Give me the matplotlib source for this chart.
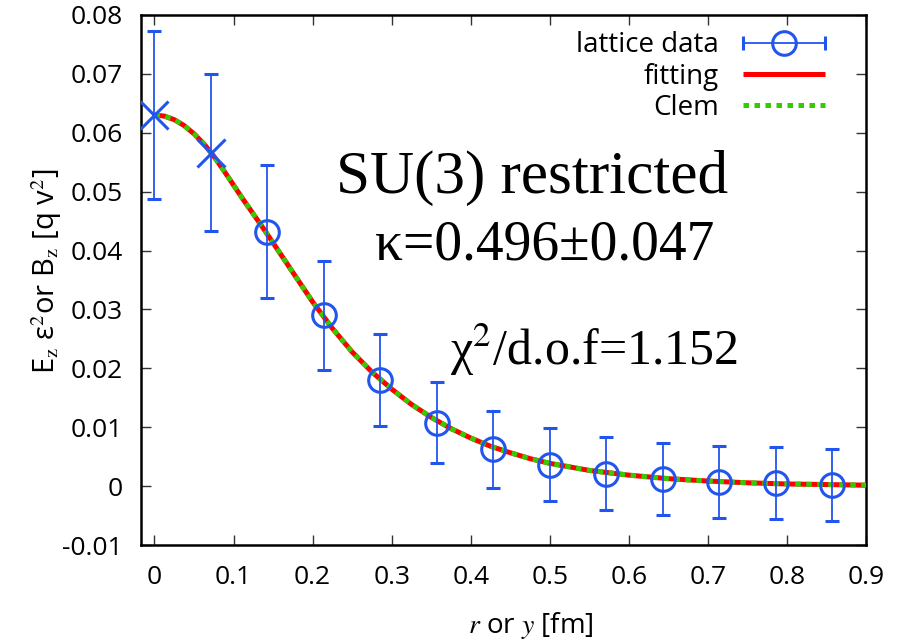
import numpy as np
import matplotlib
matplotlib.use('Agg')
import matplotlib.pyplot as plt
from matplotlib.legend_handler import HandlerErrorbar
from matplotlib import font_manager

plt.rcParams['font.family'] = ['Open Sans', 'DejaVu Sans']
plt.rcParams['mathtext.fontset'] = 'stix'

# lattice data (first two points drawn as crosses)
r_lat   = [0.0, 0.0714, 0.1429, 0.2143, 0.2857, 0.3571, 0.4286,
           0.5, 0.5714, 0.6429, 0.7143, 0.7857, 0.8571]
e_lat   = [0.0630, 0.0566, 0.0432, 0.0290, 0.0180, 0.0108, 0.0063,
           0.0037, 0.0021, 0.0013, 0.0008, 0.0005, 0.0003]
err_lat = [0.0143, 0.0133, 0.0113, 0.0092, 0.0078, 0.0069, 0.0065,
           0.0062, 0.0062, 0.0061, 0.0061, 0.0061, 0.0061]

# fitted profile
r_fit = [0.0, 0.0125, 0.025, 0.0375, 0.05, 0.0625, 0.075, 0.0875, 0.1,
         0.1125, 0.125, 0.1375, 0.15, 0.175, 0.2, 0.225, 0.25, 0.275, 0.3,
         0.325, 0.35, 0.375, 0.4, 0.425, 0.45, 0.475, 0.5, 0.55, 0.6, 0.65,
         0.7, 0.75, 0.8, 0.85, 0.9]
e_fit = [0.0630, 0.0628, 0.0622, 0.0612, 0.0598, 0.0581, 0.0560, 0.0536,
         0.0511, 0.0486, 0.0462, 0.0438, 0.0413, 0.0363, 0.0313, 0.0268,
         0.0228, 0.0194, 0.0165, 0.0139, 0.0117, 0.0098, 0.0082, 0.0068,
         0.0057, 0.0047, 0.0039, 0.0027, 0.0019, 0.0013, 0.0009, 0.0006,
         0.0004, 0.0003, 0.0002]
e_clem = e_fit

yticks = [-0.01, 0, 0.01, 0.02, 0.03, 0.04, 0.05, 0.06, 0.07, 0.08]
ylabels = ["-0.01", "0", "0.01", "0.02", "0.03", "0.04", "0.05", "0.06", "0.07", "0.08"]
xticks = [0, 0.1, 0.2, 0.3, 0.4, 0.5, 0.6, 0.7, 0.8, 0.9]
xlabels = ["0", "0.1", "0.2", "0.3", "0.4", "0.5", "0.6", "0.7", "0.8", "0.9"]

# narrow face for the y label if there is one
names = {f.name for f in font_manager.fontManager.ttflist}
narrow = "Liberation Sans Narrow" if "Liberation Sans Narrow" in names else "Open Sans"

blue = "#2255ee"
fig = plt.figure(figsize=(9.04, 6.4), dpi=100)
ax = fig.add_axes([0.156, 0.148, 0.802, 0.829])

ln_fit, = ax.plot(r_fit, e_fit, color="#ff0000", lw=3.6, solid_capstyle="butt", zorder=2)
ln_clem, = ax.plot(r_fit, e_clem, color="#33cc00", lw=3.6, dashes=(1.1, 1.1), zorder=3)

ax.errorbar(r_lat[:2], e_lat[:2], yerr=err_lat[:2], fmt="x", color=blue, ms=20,
            mew=2.2, elinewidth=1.3, capsize=5, capthick=1.3, zorder=4)
ax.errorbar(r_lat[2:], e_lat[2:], yerr=err_lat[2:], fmt="o", color=blue, ms=17,
            mew=2.2, mfc="none", elinewidth=1.3, capsize=5, capthick=1.3, zorder=4)
# legend proxy: gnuplot draws the key sample with a horizontal bar
proxy = ax.errorbar([np.nan], [np.nan], xerr=[1.0], fmt="o", color=blue, ms=17,
                    mew=2.2, mfc="none", elinewidth=1.3, capsize=5, capthick=1.3)

ax.set_xlim(-0.017, 0.9)
ax.set_ylim(-0.01, 0.08)
ax.set_xticks(xticks)
ax.set_xticklabels(xlabels)
ax.set_yticks(yticks)
ax.set_yticklabels(ylabels)
ax.tick_params(direction="in", length=7, width=1, top=True, right=True,
               labelsize=19, pad=14, color="#333333")
ax.tick_params(axis="y", pad=13)
for s in ax.spines.values():
    s.set_linewidth(1.8)

ax.set_xlabel("$r$ or $y$ [fm]", fontsize=20)
ax.xaxis.set_label_coords(0.538, -0.122)
ax.set_ylabel(r"E$_{\rm z}$ ε$^2$or B$_{\rm z}$ [q v$^2$]", fontsize=20,
              family=[narrow, "DejaVu Sans"])
ax.yaxis.set_label_coords(-0.106, 0.517)

# scale the y label so it runs about 205 px along the axis, as in the original
fig.canvas.draw()
bb = ax.yaxis.label.get_window_extent()
ax.yaxis.label.set_fontsize(20 * 205 / bb.height)

ax.text(0.477, 0.0523, "SU(3) restricted", fontsize=44, family="Liberation Serif",
        ha="center", va="center")
ax.text(0.494, 0.0408, "κ=0.496±0.047", fontsize=40, family="Liberation Serif",
        ha="center", va="center")
ax.text(0.556, 0.0232, "χ$^2$/d.o.f=1.152", fontsize=36, family="Liberation Serif",
        ha="center", va="center")

ax.legend([proxy, ln_fit, ln_clem], ["lattice data", "fitting", "Clem"], loc="upper right",
          markerfirst=False, frameon=False, fontsize=20, handlelength=2.95,
          labelspacing=0.12, borderaxespad=0.25, handletextpad=0.85, borderpad=0.35,
          bbox_to_anchor=(0.966, 1.0),
          handler_map={proxy: HandlerErrorbar(xerr_size=1.47)})

fig.savefig("out.png", dpi=100)
